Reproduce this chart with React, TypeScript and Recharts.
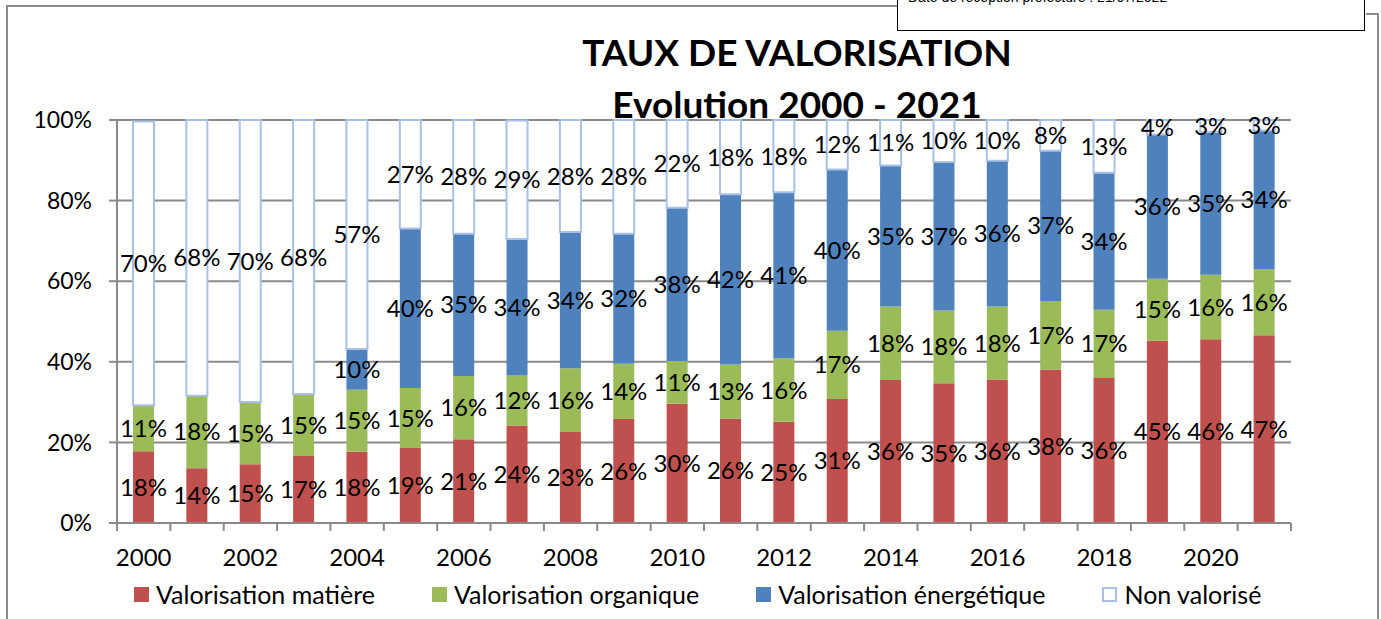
import { BarChart, Bar, XAxis, YAxis, CartesianGrid, Legend, LabelList } from "recharts";

const YEARS = [
  "2000", "2001", "2002", "2003", "2004", "2005", "2006", "2007", "2008", "2009", "2010",
  "2011", "2012", "2013", "2014", "2015", "2016", "2017", "2018", "2019", "2020", "2021",
];
const MATIERE = [17.8, 13.6, 14.6, 16.6, 17.7, 18.6, 20.8, 24.2, 22.6, 25.8, 29.6, 25.9, 25.1, 30.8, 35.5, 34.7, 35.6, 38.1, 36.0, 45.2, 45.6, 46.6];
const ORGANIQUE = [11.4, 18.0, 15.4, 15.4, 15.4, 14.9, 15.7, 12.4, 15.8, 13.7, 10.6, 13.4, 15.8, 16.9, 18.2, 18.0, 18.1, 17.0, 16.9, 15.4, 16.0, 16.4];
const ENERGETIQUE = [null, null, null, null, 10.1, 39.6, 35.3, 33.9, 33.8, 32.3, 38.0, 42.3, 41.2, 40.0, 35.0, 36.9, 36.2, 37.3, 34.0, 35.8, 35.4, 34.4];
const NON_VALORISE = [70.4, 68.4, 70.0, 68.0, 56.8, 26.9, 28.2, 29.4, 27.8, 28.2, 21.8, 18.4, 17.9, 12.3, 11.3, 10.4, 10.1, 7.6, 13.1, 3.6, 3.0, 2.6];
const Y_TICKS = [0, 20, 40, 60, 80, 100];
const LEGEND_ORDER = ["mat", "org", "ener", "non"];

const data = YEARS.map((year, i) => ({
  year,
  mat: MATIERE[i],
  org: ORGANIQUE[i],
  ener: ENERGETIQUE[i],
  non: NON_VALORISE[i],
}));

const W = 1381;
const H = 619;
const PLOT_LEFT = 117;
const PLOT_RIGHT = 1291;
const STEP = (PLOT_RIGHT - PLOT_LEFT) / YEARS.length;
const GREY = "#8a8a8a";
const NON_BORDER = "#a9c1e8";
const LABEL_SIZE = 24;

const pct = (v: any) => (v == null ? "" : `${Math.round(Number(v))}%`);

function XTick(props: any) {
  const { x, y, payload, index } = props;
  return (
    <g>
      <line x1={x - STEP / 2} x2={x - STEP / 2} y1={y} y2={y + 8} stroke={GREY} strokeWidth={2} />
      {index === YEARS.length - 1 && (
        <line x1={x + STEP / 2} x2={x + STEP / 2} y1={y} y2={y + 8} stroke={GREY} strokeWidth={2} />
      )}
      {index % 2 === 0 && (
        <text x={x} y={y + 43} textAnchor="middle" fontSize={24} fill="#000">
          {payload.value}
        </text>
      )}
    </g>
  );
}

function LegendContent(props: any) {
  const items = [...(props.payload || [])].sort(
    (a: any, b: any) => LEGEND_ORDER.indexOf(a.dataKey) - LEGEND_ORDER.indexOf(b.dataKey)
  );
  return (
    <div style={{ height: 30, display: "flex", alignItems: "center", paddingLeft: 134, gap: 57 }}>
      {items.map((it: any) => {
        const isNon = it.dataKey === "non";
        return (
          <div key={it.value} style={{ display: "flex", alignItems: "center", fontSize: 25 }}>
            <span
              style={{
                display: "inline-block",
                width: isNon ? 11 : 15,
                height: isNon ? 11 : 15,
                background: isNon ? "#fff" : it.color,
                border: isNon ? `2px solid ${NON_BORDER}` : "none",
                marginRight: 7,
              }}
            />
            <span>{it.value}</span>
          </div>
        );
      })}
    </div>
  );
}

export default function App() {
  return (
    <div style={{ position: "relative", width: W, height: H, overflow: "hidden", fontFamily: "Lato, sans-serif", background: "#fff" }}>
      <style>{`body{margin:0}`}</style>

      {/* frame of the scanned page */}
      <div style={{ position: "absolute", left: 6, top: 5, width: 891, height: 2, background: GREY }} />
      <div style={{ position: "absolute", left: 6, top: 5, width: 2, height: H, background: GREY }} />
      <div style={{ position: "absolute", left: 1366, top: 13, width: 13, height: 2, background: GREY }} />
      <div style={{ position: "absolute", left: 1377, top: 13, width: 2, height: H, background: GREY }} />

      <div
        style={{
          position: "absolute",
          left: 897,
          top: -10,
          width: 466,
          height: 39,
          border: "1.5px solid #000",
          background: "#fff",
          overflow: "hidden",
          zIndex: 2,
        }}
      >
        <div style={{ position: "absolute", left: 10, top: -1, fontFamily: "'Liberation Sans', Arial", fontSize: 14, lineHeight: "14px", whiteSpace: "nowrap" }}>
          Date de réception préfecture : 21/07/2022
        </div>
      </div>

      <BarChart width={W} height={H} data={data} margin={{ top: 120, right: W - PLOT_RIGHT, left: 0, bottom: 10 }} barSize={21}>
        <CartesianGrid vertical={false} stroke={GREY} strokeWidth={2} />
        <XAxis
          dataKey="year"
          height={56}
          interval={0}
          tickSize={0}
          tickMargin={0}
          tickLine={false}
          axisLine={{ stroke: GREY, strokeWidth: 2 }}
          tick={<XTick />}
        />
        <YAxis
          width={PLOT_LEFT}
          domain={[0, 100]}
          ticks={Y_TICKS}
          tickFormatter={(v: number) => `${v}%`}
          tickSize={8}
          tickMargin={17}
          tickLine={{ stroke: GREY, strokeWidth: 2 }}
          axisLine={{ stroke: GREY, strokeWidth: 2 }}
          tick={{ fill: "#000", fontSize: 23 }}
        />
        <Legend verticalAlign="bottom" wrapperStyle={{ left: 0, width: W }} content={<LegendContent />} />
        <Bar dataKey="mat" name="Valorisation matière" stackId="a" fill="#c0504d" isAnimationActive={false}>
          <LabelList dataKey="mat" position="center" formatter={pct} fill="#000" fontSize={LABEL_SIZE} />
        </Bar>
        <Bar dataKey="org" name="Valorisation organique" stackId="a" fill="#9bbb59" isAnimationActive={false}>
          <LabelList dataKey="org" position="center" formatter={pct} fill="#000" fontSize={LABEL_SIZE} />
        </Bar>
        <Bar dataKey="ener" name="Valorisation énergétique" stackId="a" fill="#4f81bd" isAnimationActive={false}>
          <LabelList dataKey="ener" position="center" formatter={pct} fill="#000" fontSize={LABEL_SIZE} />
        </Bar>
        <Bar dataKey="non" name="Non valorisé" stackId="a" fill="#ffffff" stroke={NON_BORDER} strokeWidth={2} isAnimationActive={false}>
          <LabelList dataKey="non" position="center" formatter={pct} fill="#000" fontSize={LABEL_SIZE} />
        </Bar>
      </BarChart>

      <div
        style={{
          position: "absolute",
          left: 0,
          width: 1594,
          top: 26,
          textAlign: "center",
          fontWeight: 700,
          fontSize: 37,
          lineHeight: "52px",
          color: "#000",
        }}
      >
        <div>TAUX DE VALORISATION</div>
        <div>Evolution 2000 - 2021</div>
      </div>
    </div>
  );
}
